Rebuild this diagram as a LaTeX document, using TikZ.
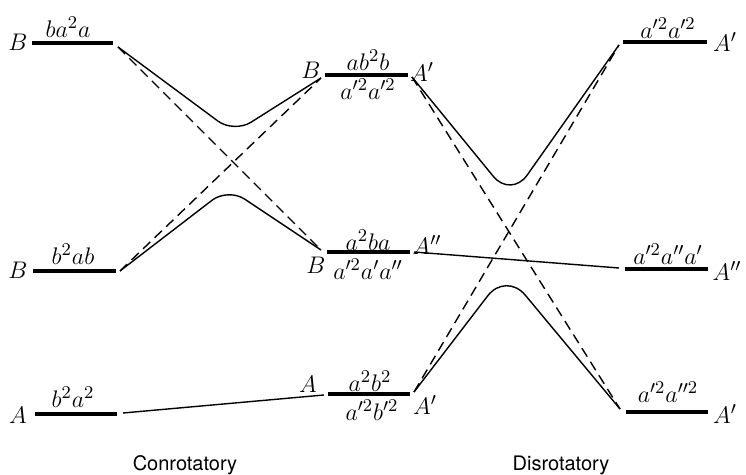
\documentclass[tikz,border=0pt]{standalone}
\usepackage{fontspec}
\setsansfont{TeX Gyre Heros}
\begin{document}
\begin{tikzpicture}[x=0.5pt,y=-0.5pt,
  lvl/.style={line width=1.6pt},
  conn/.style={line width=0.7pt},
  dconn/.style={line width=0.7pt, dash pattern=on 5pt off 3pt},
  lab/.style={font=\fontsize{12.5}{14}\selectfont, inner sep=0pt},
  captxt/.style={font=\sffamily\fontsize{10}{12}\selectfont, inner sep=0pt}]
\useasboundingbox (0,0) rectangle (746,475);
% level end points
\coordinate (l1a) at (32,43);  \coordinate (l1b) at (113,43);
\coordinate (l2a) at (33,271); \coordinate (l2b) at (116,271);
\coordinate (l3a) at (35,414); \coordinate (l3b) at (117,414);
\coordinate (c1a) at (325,75); \coordinate (c1b) at (408,75);
\coordinate (c2a) at (327,252);\coordinate (c2b) at (410,252);
\coordinate (c3a) at (328,394);\coordinate (c3b) at (410,394);
\coordinate (r1a) at (623,42); \coordinate (r1b) at (707,42);
\coordinate (r2a) at (625,269);\coordinate (r2b) at (708,269);
\coordinate (r3a) at (626,412);\coordinate (r3b) at (708,412);
\draw[lvl] (l1a) -- (l1b);
\draw[lvl] (l2a) -- (l2b);
\draw[lvl] (l3a) -- (l3b);
\draw[lvl] (c1a) -- (c1b);
\draw[lvl] (c2a) -- (c2b);
\draw[lvl] (c3a) -- (c3b);
\draw[lvl] (r1a) -- (r1b);
\draw[lvl] (r2a) -- (r2b);
\draw[lvl] (r3a) -- (r3b);
% connector end points
\coordinate (L1o) at (118,47);
\coordinate (L2o) at (120,271);
\coordinate (L3o) at (123,413);
\coordinate (C1i) at (321,78);
\coordinate (C2i) at (321,250);
\coordinate (C3i) at (324,395);
\coordinate (C1o) at (412,77);
\coordinate (C2o) at (414,252);
\coordinate (C3o) at (414,392);
\coordinate (R1i) at (619,45);
\coordinate (R2i) at (619,268);
\coordinate (R3i) at (620,409);
\coordinate (v1) at (234,133);
\coordinate (v2) at (228,188);
\coordinate (v3) at (511,198);
\coordinate (v4) at (506,272);
% connectors
\draw[conn, rounded corners=10pt] (L1o) -- (v1) -- (C1i);
\draw[conn, rounded corners=10pt] (L2o) -- (v2) -- (C2i);
\draw[dconn] (L1o) -- (C2i);
\draw[dconn] (L2o) -- (C1i);
\draw[conn] (L3o) -- (C3i);
\draw[conn, rounded corners=14pt] (C1o) -- (v3) -- (R1i);
\draw[conn, rounded corners=15pt] (C3o) -- (v4) -- (R3i);
\draw[dconn] (C1o) -- (R3i);
\draw[dconn] (C3o) -- (R1i);
\draw[conn] (C2o) -- (R2i);
% labels left
\node[lab] (s1) at (18,42) {$B$};
\node[lab] (t1) at (68,27) {$ba^2a$};
\node[lab] (s2) at (18,270) {$B$};
\node[lab] (t2) at (73,254) {$b^2ab$};
\node[lab] (s3) at (18,415) {$A$};
\node[lab] (t3) at (73,397) {$b^2a^2$};
% labels centre
\node[lab] (cs1) at (311,70) {$B$};
\node[lab] (ct1) at (368,60) {$ab^2b$};
\node[lab] (cb1) at (368,89) {$a'^2a'^2$};
\node[lab] (cr1) at (422,72) {$A'$};
\node[lab] (cs2) at (316,265) {$B$};
\node[lab] (ct2) at (368,240) {$a^2ba$};
\node[lab] (cb2) at (368,269) {$a'^2a'a''$};
\node[lab] (cr2) at (427,245) {$A''$};
\node[lab] (cs3) at (308,384) {$A$};
\node[lab] (ct3) at (370,381) {$a^2b^2$};
\node[lab] (cb3) at (372,410) {$a'^2b'^2$};
\node[lab] (cr3) at (425,405) {$A'$};
% labels right
\node[lab] (rt1) at (668,28) {$a'^2a'^2$};
\node[lab] (rr1) at (725,42) {$A'$};
\node[lab] (rt2) at (668,254) {$a'^2a''a'$};
\node[lab] (rr2) at (727,271) {$A''$};
\node[lab] (rt3) at (668,392) {$a'^2a''^2$};
\node[lab] (rr3) at (725,414) {$A'$};
% captions
\node[captxt] (con) at (185,465) {Conrotatory};
\node[captxt] (dis) at (561,465) {Disrotatory};
\end{tikzpicture}
\end{document}
